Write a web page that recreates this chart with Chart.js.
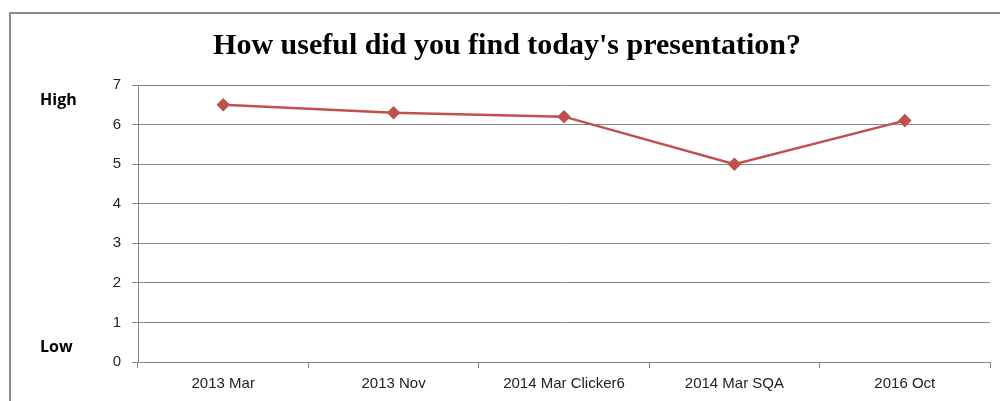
<!DOCTYPE html>
<html>
<head>
<meta charset="utf-8">
<script src="https://cdn.jsdelivr.net/npm/chart.js@4.4.1/dist/chart.umd.min.js"></script>
<style>
  html, body { margin: 0; padding: 0; background: #fff; }
  .wrap { position: relative; width: 1000px; height: 401px; overflow: hidden; }
  .frame { position: absolute; left: 9px; top: 12px; width: 1000px; height: 400px;
           border-left: 2px solid #8c8c8c; border-top: 2px solid #8c8c8c; }
  canvas { position: absolute; left: 0; top: 0; }
  .side { position: absolute; left: 40px; font: bold 16px "Open Sans", sans-serif; color: #000; }
</style>
</head>
<body>
<div class="wrap">
  <div class="frame"></div>
  <canvas id="chart" width="1000" height="401"></canvas>
  <div class="side" style="top:88px">High</div>
  <div class="side" style="top:335px">Low</div>
</div>
<script>
const categories = ['2013 Mar', '2013 Nov', '2014 Mar Clicker6', '2014 Mar SQA', '2016 Oct'];
const usefulness = [6.5, 6.3, 6.2, 5.0, 6.1];
const yTicks = [0, 1, 2, 3, 4, 5, 6, 7];

const ctx = document.getElementById('chart').getContext('2d');
new Chart(ctx, {
    type: 'line',
    data: {
        labels: categories,
        datasets: [{
            data: usefulness,
            borderColor: '#C0504D',
            backgroundColor: '#C0504D',
            borderWidth: 2.5,
            pointStyle: 'rectRot',
            pointRadius: 5,
            tension: 0
        }]
    },
    options: {
        responsive: false,
        animation: false,
        // left padding + y axis width puts the plot edge at x=138 and centres the title like the original
        layout: { padding: { left: 24, right: 10, top: 0, bottom: 0 } },
        plugins: {
            legend: { display: false },
            tooltip: { enabled: false },
            title: {
                display: true,
                text: "How useful did you find today's presentation?",
                color: '#000',
                font: { family: '"Liberation Serif", serif', size: 30, weight: 'bold', lineHeight: 1.2 },
                padding: { top: 28, bottom: 21 }
            }
        },
        scales: {
            x: {
                offset: true,
                grid: { offset: true, drawOnChartArea: false, drawTicks: true, tickLength: 6, color: '#888' },
                border: { color: '#888' },
                ticks: { color: '#222', padding: 7, maxRotation: 0,
                         font: { family: '"Liberation Sans", sans-serif', size: 15 } },
                afterFit: s => { s.height = 39; }
            },
            y: {
                min: 0, max: 7,
                afterBuildTicks: s => { s.ticks = yTicks.map(v => ({ value: v })); },
                grid: { color: '#888', tickLength: 6 },
                border: { color: '#888' },
                ticks: { color: '#222', padding: 11,
                         font: { family: '"Liberation Sans", sans-serif', size: 15 } },
                afterFit: s => { s.width = 114; }
            }
        }
    }
});
</script>
</body>
</html>
